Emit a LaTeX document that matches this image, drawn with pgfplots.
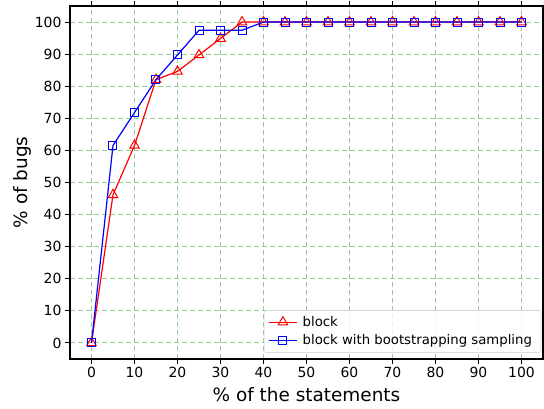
\documentclass[border=0pt]{standalone}
\usepackage{pgfplots}
\pgfplotsset{compat=1.18}
\usepackage{fontspec}
\setmainfont{DejaVu Sans}
\definecolor{gridgreen}{RGB}{150,205,150}
\begin{document}
\begin{tikzpicture}
\begin{axis}[
  name=ax,
  scale only axis,
  width=473bp, height=353bp,
  xmin=-5, xmax=105, ymin=-5, ymax=105,
  xtick={0,10,...,100}, ytick={0,10,...,100},
  tick align=outside, major tick length=5bp,
  tick style={black, line width=1bp},
  axis line style={line width=1.1bp},
  grid=major,
  major grid style={gridgreen, dashed, dash pattern=on 5bp off 3bp, line width=1bp},
  /pgf/number format/assume math mode=true,
  ticklabel style={font=\fontsize{14}{16}\selectfont},
  xlabel={\% of the statements}, ylabel={\% of bugs},
  label style={font=\fontsize{18.5}{21}\selectfont},
  xlabel style={yshift=-3bp},
  ylabel style={yshift=-3bp},
  legend style={font=\fontsize{13.3}{15}\selectfont, draw=black!20, rounded corners=2bp, fill=white, fill opacity=0.8, text opacity=1, row sep=3bp, inner sep=4bp, at={(0.996,0.018)}, anchor=south east,
    nodes={inner xsep=5bp}},
  legend cell align=left,
  legend image code/.code={
    \draw[mark repeat=2,mark phase=2,#1] plot coordinates {(0cm,0cm) (0.5cm,0cm) (1cm,0cm)};
  },
]
\addplot[red, line width=1.2bp, mark=triangle, mark size=5.5bp, mark options={red, solid, line width=1bp}] coordinates {
(0,0) (5,46.15) (10,61.54) (15,82.05) (20,84.62) (25,89.74) (30,94.87) (35,100) (40,100) (45,100) (50,100) (55,100) (60,100) (65,100) (70,100) (75,100) (80,100) (85,100) (90,100) (95,100) (100,100)};
\addlegendentry{block}
\addplot[blue, line width=1.2bp, mark=square, mark size=4bp, mark options={blue, solid, line width=1bp}] coordinates {
(0,0) (5,61.54) (10,71.79) (15,82.05) (20,89.74) (25,97.44) (30,97.44) (35,97.44) (40,100) (45,100) (50,100) (55,100) (60,100) (65,100) (70,100) (75,100) (80,100) (85,100) (90,100) (95,100) (100,100)};
\addlegendentry{block with bootstrapping sampling}
\end{axis}
\pgfresetboundingbox
\path[use as bounding box] (ax.south west) ++(-70bp,-50bp) rectangle ++(544bp,409bp);
\end{tikzpicture}
\end{document}
